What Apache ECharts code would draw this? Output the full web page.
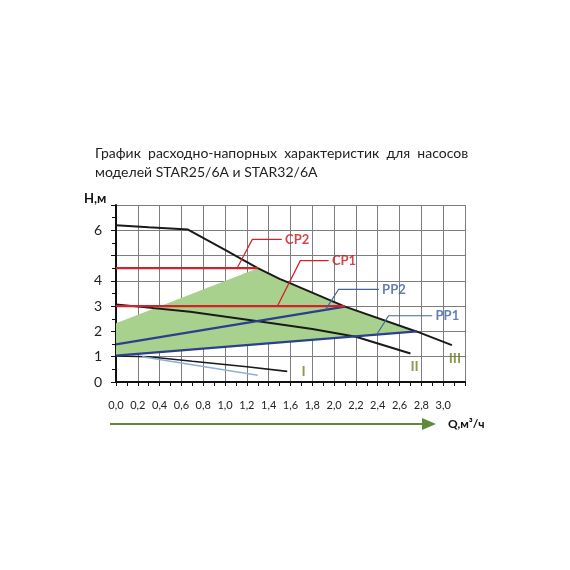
<!DOCTYPE html>
<html>
<head>
<meta charset="utf-8">
<script src="https://cdn.jsdelivr.net/npm/echarts@6/dist/echarts.min.js"></script>
<style>
  html, body { margin: 0; padding: 0; background: #fff; }
  #chart { width: 570px; height: 570px; }
</style>
</head>
<body>
<div id="chart"></div>
<script>
// pump curves, [Q m3/h, H m]
const speed3 = [[0, 6.2], [0.3, 6.12], [0.66, 6.03], [1.0, 5.23], [1.3, 4.5], [1.5, 4.08], [1.6, 3.9], [2.1, 2.98], [2.76, 1.99], [3.08, 1.46]];
const speed2 = [[0, 3.07], [0.68, 2.78], [1.385, 2.35], [1.8, 2.1], [2.2, 1.79], [2.7, 1.13]];
const speed1 = [[0, 1.03], [0.3, 1.0], [0.7, 0.82], [1.2, 0.6], [1.57, 0.42]];
const speed1b = [[0.24, 1.0], [1.3, 0.27]];
const pp2 = [[0, 1.49], [2.1, 2.98]];
const pp1 = [[0, 1.04], [2.76, 2.0]];
const cp2 = [[0, 4.5], [1.3, 4.5]];
const cp1 = [[0, 3.0], [2.1, 3.0]];
const workArea = [[0, 2.32], [1.3, 4.5], [1.5, 4.08], [1.6, 3.9], [2.1, 2.98], [2.76, 1.99], [0, 1.04]];

// leader lines and their labels
const cp2Leader = [[1.11, 4.5], [1.25, 5.64], [1.52, 5.64]];
const cp1Leader = [[1.48, 3.0], [1.69, 4.8], [1.95, 4.8]];
const pp2Leader = [[1.92, 2.85], [2.04, 3.66], [2.41, 3.66]];
const pp1Leader = [[2.39, 1.88], [2.5, 2.62], [2.9, 2.62]];
const redTags = [[1.55, 5.64, 'CP2'], [1.98, 4.8, 'CP1']];
const blueTags = [[2.44, 3.66, 'PP2'], [2.93, 2.62, 'PP1']];
const speedTags = [[1.7, 0.41, 'I'], [2.7, 0.61, 'II'], [3.05, 0.94, 'III']];

const xTicks = [0, 0.2, 0.4, 0.6, 0.8, 1.0, 1.2, 1.4, 1.6, 1.8, 2.0, 2.2, 2.4, 2.6, 2.8, 3.0];
const yTicks = [0, 1, 2, 3, 4, 6];

const chart = echarts.init(document.getElementById('chart'));

function line(data, color, width, z) {
  return {type: 'line', data: data, symbol: 'none', silent: true, z: z || 3,
    lineStyle: {color: color, width: width}};
}
function tags(data, color, size) {
  return {type: 'scatter', data: data, symbolSize: 0, z: 6, silent: true,
    label: {show: true, position: 'right', distance: 0, formatter: p => p.value[2],
      color: color, fontWeight: 'bold', fontSize: size, fontFamily: 'Lato'}};
}

chart.setOption({
  animation: false,
  textStyle: {fontFamily: 'Lato'},
  grid: {left: 116, right: 105, top: 205, bottom: 188},
  xAxis: {
    type: 'value', min: 0, max: 3.2, interval: 0.2,
    axisLine: {lineStyle: {color: '#111', width: 2}},
    axisTick: {show: true, length: 4, lineStyle: {color: '#111'}},
    minorTick: {show: true, splitNumber: 2, length: 4, lineStyle: {color: '#111'}},
    splitLine: {show: true, lineStyle: {color: '#7d7d7d', width: 1}},
    axisLabel: {
      margin: 18, fontSize: 11, color: '#222',
      formatter: v => {
        const hit = xTicks.find(t => Math.abs(t - v) < 1e-6);
        return hit === undefined ? '' : hit.toFixed(1).replace('.', ',');
      }
    }
  },
  yAxis: {
    type: 'value', min: 0, max: 7, interval: 1,
    axisLine: {show: true, lineStyle: {color: '#111', width: 2}},
    axisTick: {show: true, length: 5, lineStyle: {color: '#111'}},
    minorTick: {show: true, splitNumber: 2, length: 4, lineStyle: {color: '#111'}},
    splitLine: {show: true, lineStyle: {color: '#7d7d7d', width: 1}},
    axisLabel: {
      margin: 14, fontSize: 14, color: '#222',
      formatter: v => (yTicks.indexOf(v) >= 0 ? String(v) : '')
    }
  },
  graphic: [
    {type: 'text', left: 95, top: 146, style: {text: 'График  расходно-напорных  характеристик  для  насосов',
      fontSize: 14, fontFamily: 'Lato', fill: '#222'}},
    {type: 'text', left: 95, top: 165, style: {text: 'моделей STAR25/6A и STAR32/6A',
      fontSize: 14, fontFamily: 'Lato', fill: '#222'}},
    {type: 'text', left: 84, top: 192, style: {text: 'Н,м', fontSize: 13, fontWeight: 'bold', fontFamily: 'Lato', fill: '#111'}},
    {type: 'text', left: 448, top: 418, style: {text: 'Q,м³/ч', fontSize: 12, fontWeight: 'bold', fontFamily: 'Lato', fill: '#111'}},
    {type: 'line', shape: {x1: 110, y1: 424, x2: 424, y2: 424}, style: {stroke: '#5b8c3c', lineWidth: 2}},
    {type: 'polygon', shape: {points: [[422, 418], [436, 424], [422, 430]]}, style: {fill: '#5b8c3c'}}
  ],
  series: [
    {
      type: 'custom', silent: true, z: 1, data: [0],
      renderItem: (params, api) => ({
        type: 'polygon',
        shape: {points: workArea.map(p => api.coord(p))},
        style: {fill: '#a9d18e'}
      })
    },
    line(speed3, '#1a1a1a', 2),
    line(speed2, '#1a1a1a', 2),
    line(speed1, '#1a1a1a', 1.6),
    line(speed1b, '#8fb0d6', 1.6),
    line(pp2, '#2b3f8c', 2.2, 4),
    line(pp1, '#2b3f8c', 2.2, 4),
    line(cp2, '#d2232a', 2.2, 4),
    line(cp1, '#d2232a', 2.2, 4),
    line(cp2Leader, '#d2232a', 1.2, 5),
    line(cp1Leader, '#d2232a', 1.2, 5),
    line(pp2Leader, '#3f64a6', 1.2, 5),
    line(pp1Leader, '#3f64a6', 1.2, 5),
    tags(redTags, '#c8161d', 13),
    tags(blueTags, '#3c5fa3', 13),
    tags(speedTags, '#6f7f22', 14)
  ]
});
</script>
</body>
</html>
